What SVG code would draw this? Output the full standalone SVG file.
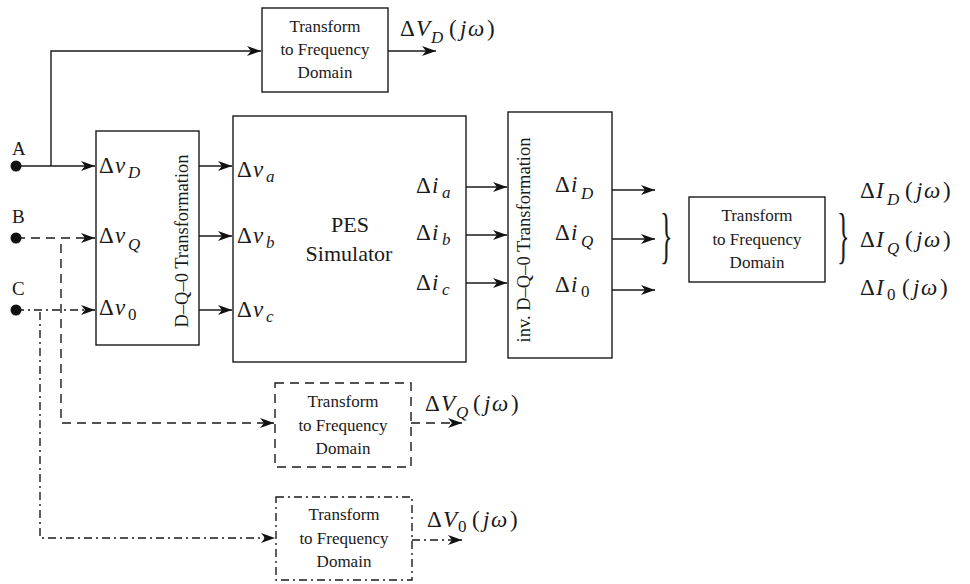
<svg xmlns="http://www.w3.org/2000/svg" width="970" height="584" viewBox="0 0 970 584" font-family="'Liberation Serif', 'DejaVu Serif', serif">
<defs>
<marker id="ah" markerUnits="userSpaceOnUse" markerWidth="16" markerHeight="12" refX="14" refY="5" orient="auto" viewBox="0 0 16 12">
<path d="M0,0 L14,5 L0,10 L4,5 z" fill="#111"/>
</marker>
<style>
.box{fill:none;stroke:#1a1a1a;stroke-width:1.4}
.dash{stroke-dasharray:9,6}
.dd{stroke-dasharray:8,4,2,4}
.ln{fill:none;stroke:#1a1a1a;stroke-width:1.4}
.arr{marker-end:url(#ah)}
text{font-family:'Liberation Serif','DejaVu Serif',serif;fill:#1a1a1a}
.t{font-size:17px;text-anchor:middle}
.big{font-size:22px;text-anchor:middle}
.vt{font-size:18.5px;text-anchor:middle}
.m{font-size:23px}
.i{font-style:italic}
.s{font-size:17px;font-style:italic}
.s0{font-size:17px}
.lab{font-size:19px}
.br{font-size:62px}
</style>
</defs>

<g id="connectors">
<path class="ln arr" d="M16,166 H95"/>
<path class="ln arr" d="M51,166 V51 H261"/>
<path class="ln arr" d="M388,51 H436"/>
<path class="ln arr dash" d="M16,238 H95"/>
<path class="ln arr dash" d="M61,244 V423 H274"/>
<path class="ln arr dash" d="M411,423 H462"/>
<path class="ln arr dd" d="M16,310 H95"/>
<path class="ln arr dd" d="M40,312 V538 H275"/>
<path class="ln arr dd" d="M412,540 H462"/>
<path class="ln arr" d="M199,166 H232"/>
<path class="ln arr" d="M199,236 H232"/>
<path class="ln arr" d="M199,310 H232"/>
<path class="ln arr" d="M466,187 H507"/>
<path class="ln arr" d="M466,235 H507"/>
<path class="ln arr" d="M466,283 H507"/>
<path class="ln arr" d="M612,190 H655"/>
<path class="ln arr" d="M612,239 H655"/>
<path class="ln arr" d="M612,290 H655"/>
</g>

<g id="inputA">
<circle cx="16" cy="166" r="5.5" fill="#111"/>
<text class="lab" x="12" y="155">A</text>
</g>
<g id="inputB">
<circle cx="16" cy="238" r="5.5" fill="#111"/>
<text class="lab" x="12" y="223">B</text>
</g>
<g id="inputC">
<circle cx="16" cy="310" r="5.5" fill="#111"/>
<text class="lab" x="12" y="295">C</text>
</g>

<g id="tfD">
<rect class="box" x="262" y="8" width="126" height="84"/>
<text class="t" x="325" y="32">Transform</text>
<text class="t" x="325" y="55">to Frequency</text>
<text class="t" x="325" y="78">Domain</text>
<text class="m" y="36"><tspan x="400">Δ</tspan><tspan class="i" x="416">V</tspan><tspan class="s" x="431" y="43">D</tspan><tspan x="449" y="36">(</tspan><tspan class="i" x="460">j</tspan><tspan class="i" x="468">ω</tspan><tspan x="487">)</tspan></text>
</g>

<g id="dq0">
<rect class="box" x="96" y="131" width="103" height="214"/>
<text class="vt" transform="translate(188,241) rotate(-90)">D–Q–0 Transformation</text>
<text class="m" y="173"><tspan x="99">Δ</tspan><tspan class="i" x="115">v</tspan><tspan class="s" x="128" y="178">D</tspan></text>
<text class="m" y="243"><tspan x="99">Δ</tspan><tspan class="i" x="115">v</tspan><tspan class="s" x="128" y="250">Q</tspan></text>
<text class="m" y="315"><tspan x="99">Δ</tspan><tspan class="i" x="115">v</tspan><tspan class="s0" x="128" y="320">0</tspan></text>
</g>

<g id="pes">
<rect class="box" x="233" y="116" width="233" height="246"/>
<text class="big" x="350" y="232">PES</text>
<text class="big" x="349" y="261">Simulator</text>
<text class="m" y="177"><tspan x="237">Δ</tspan><tspan class="i" x="253">v</tspan><tspan class="s" x="266" y="182">a</tspan></text>
<text class="m" y="243"><tspan x="237">Δ</tspan><tspan class="i" x="253">v</tspan><tspan class="s" x="266" y="248">b</tspan></text>
<text class="m" y="317"><tspan x="237">Δ</tspan><tspan class="i" x="253">v</tspan><tspan class="s" x="266" y="322">c</tspan></text>
<text class="m" y="193"><tspan x="416">Δ</tspan><tspan class="i" x="432">i</tspan><tspan class="s" x="442" y="198">a</tspan></text>
<text class="m" y="240"><tspan x="416">Δ</tspan><tspan class="i" x="432">i</tspan><tspan class="s" x="442" y="245">b</tspan></text>
<text class="m" y="290"><tspan x="416">Δ</tspan><tspan class="i" x="432">i</tspan><tspan class="s" x="442" y="295">c</tspan></text>
</g>

<g id="invdq0">
<rect class="box" x="508" y="112" width="104" height="246"/>
<text class="vt" transform="translate(530,240) rotate(-90)">inv. D–Q–0 Transformation</text>
<text class="m" y="192"><tspan x="555">Δ</tspan><tspan class="i" x="571">i</tspan><tspan class="s" x="581" y="199">D</tspan></text>
<text class="m" y="240"><tspan x="555">Δ</tspan><tspan class="i" x="571">i</tspan><tspan class="s" x="581" y="247">Q</tspan></text>
<text class="m" y="292"><tspan x="555">Δ</tspan><tspan class="i" x="571">i</tspan><tspan class="s0" x="581" y="297">0</tspan></text>
</g>

<g id="tfI">
<text class="br" transform="translate(660,256) scale(0.42,1)">}</text>
<rect class="box" x="689" y="197" width="136" height="85"/>
<text class="t" x="757" y="221">Transform</text>
<text class="t" x="757" y="245">to Frequency</text>
<text class="t" x="757" y="268">Domain</text>
<text class="br" transform="translate(837,256) scale(0.42,1)">}</text>
<text class="m" y="198"><tspan x="860">Δ</tspan><tspan class="i" x="876">I</tspan><tspan class="s" x="887" y="205">D</tspan><tspan x="905" y="198">(</tspan><tspan class="i" x="916">j</tspan><tspan class="i" x="924">ω</tspan><tspan x="943">)</tspan></text>
<text class="m" y="247"><tspan x="860">Δ</tspan><tspan class="i" x="876">I</tspan><tspan class="s" x="887" y="254">Q</tspan><tspan x="905" y="247">(</tspan><tspan class="i" x="916">j</tspan><tspan class="i" x="924">ω</tspan><tspan x="943">)</tspan></text>
<text class="m" y="295"><tspan x="860">Δ</tspan><tspan class="i" x="876">I</tspan><tspan class="s0" x="887" y="300">0</tspan><tspan x="902" y="295">(</tspan><tspan class="i" x="913">j</tspan><tspan class="i" x="921">ω</tspan><tspan x="940">)</tspan></text>
</g>

<g id="tfQ">
<rect class="box dash" x="275" y="383" width="136" height="84"/>
<text class="t" x="343" y="407">Transform</text>
<text class="t" x="343" y="431">to Frequency</text>
<text class="t" x="343" y="454">Domain</text>
<text class="m" y="411"><tspan x="425">Δ</tspan><tspan class="i" x="441">V</tspan><tspan class="s" x="456" y="418">Q</tspan><tspan x="473" y="411">(</tspan><tspan class="i" x="484">j</tspan><tspan class="i" x="492">ω</tspan><tspan x="511">)</tspan></text>
</g>

<g id="tf0">
<rect class="box dd" x="276" y="497" width="136" height="83"/>
<text class="t" x="344" y="520">Transform</text>
<text class="t" x="344" y="544">to Frequency</text>
<text class="t" x="344" y="567">Domain</text>
<text class="m" y="527"><tspan x="427">Δ</tspan><tspan class="i" x="443">V</tspan><tspan class="s0" x="458" y="532">0</tspan><tspan x="472" y="527">(</tspan><tspan class="i" x="483">j</tspan><tspan class="i" x="491">ω</tspan><tspan x="510">)</tspan></text>
</g>
</svg>
